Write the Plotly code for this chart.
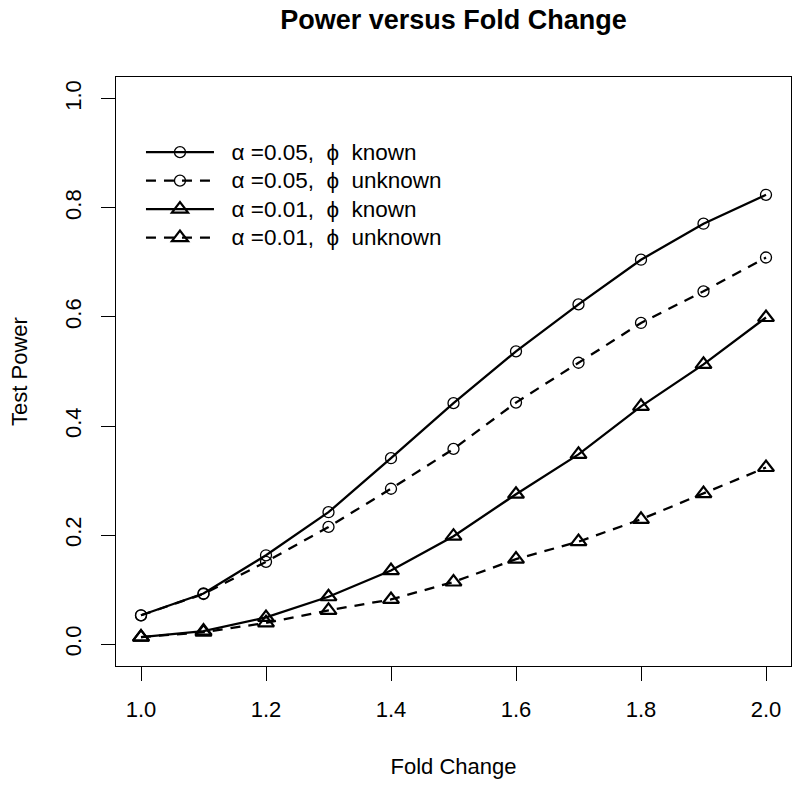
import plotly.graph_objects as go

fold_change = [1.0, 1.1, 1.2, 1.3, 1.4, 1.5, 1.6, 1.7, 1.8, 1.9, 2.0]
power_a05_known = [0.053, 0.093, 0.163, 0.242, 0.341, 0.442, 0.537, 0.623, 0.705, 0.771, 0.824]
power_a05_unknown = [0.053, 0.092, 0.151, 0.215, 0.285, 0.358, 0.443, 0.516, 0.589, 0.647, 0.709]
power_a01_known = [0.013, 0.024, 0.049, 0.087, 0.135, 0.198, 0.275, 0.348, 0.436, 0.513, 0.599]
power_a01_unknown = [0.013, 0.022, 0.039, 0.062, 0.082, 0.114, 0.156, 0.188, 0.229, 0.276, 0.324]

x_ticks = [1.0, 1.2, 1.4, 1.6, 1.8, 2.0]
x_tick_labels = ["1.0", "1.2", "1.4", "1.6", "1.8", "2.0"]
y_ticks = [0.0, 0.2, 0.4, 0.6, 0.8, 1.0]
y_tick_labels = ["0.0", "0.2", "0.4", "0.6", "0.8", "1.0"]

NB = "\u00a0"
labels = [
    f"{NB}{NB}α{NB}=0.05,{NB}{NB}ϕ{NB}{NB}known",
    f"{NB}{NB}α{NB}=0.05,{NB}{NB}ϕ{NB}{NB}unknown",
    f"{NB}{NB}α{NB}=0.01,{NB}{NB}ϕ{NB}{NB}known",
    f"{NB}{NB}α{NB}=0.01,{NB}{NB}ϕ{NB}{NB}unknown",
]

FONT = "Liberation Sans, Arial, Helvetica, sans-serif"
fig = go.Figure()

series = [
    (power_a05_known, "solid", "circle-open", 11, 1.3),
    (power_a05_unknown, "10px,8px", "circle-open", 11, 1.3),
    (power_a01_known, "solid", "triangle-up-open", 14, 2.2),
    (power_a01_unknown, "10px,8px", "triangle-up-open", 14, 2.2),
]
for (vals, dash, sym, size, mlw), label in zip(series, labels):
    fig.add_trace(go.Scatter(
        x=fold_change, y=vals, mode="lines+markers",
        name=f'<span style="font-size:22.5px">{label}</span>',
        line=dict(color="black", width=2.3, dash=dash),
        marker=dict(symbol=sym, size=size, color="black", line=dict(color="black", width=mlw)),
    ))

fig.update_layout(
    width=800, height=788,
    margin=dict(l=116, r=9, t=77, b=122),
    paper_bgcolor="white", plot_bgcolor="white",
    font=dict(family=FONT, size=22, color="black"),
    title=dict(text="<b>Power versus Fold Change</b>", x=453.5 / 800,
               xanchor="center", y=1 - 20 / 788, yanchor="middle",
               font=dict(family=FONT, size=27, color="black")),
    showlegend=True,
    legend=dict(x=0.037, y=0.905, xanchor="left", yanchor="top",
                bgcolor="rgba(0,0,0,0)", borderwidth=0, itemwidth=68,
                font=dict(family=FONT, size=19.6, color="black"), tracegroupgap=0),
)
fig.update_xaxes(
    range=[0.96, 2.04], tickvals=x_ticks, ticktext=x_tick_labels,
    showgrid=False, zeroline=False, showline=True, mirror=True,
    linecolor="black", linewidth=1.3, ticks="outside", ticklen=14, tickwidth=1.3,
    tickcolor="black", ticklabelstandoff=9,
    title=dict(text="Fold Change", standoff=38, font=dict(size=22)),
)
fig.update_yaxes(
    range=[-0.04, 1.04], tickvals=y_ticks, ticktext=y_tick_labels, tickangle=-90,
    showgrid=False, zeroline=False, showline=True, mirror=True,
    linecolor="black", linewidth=1.3, ticks="outside", ticklen=14, tickwidth=1.3,
    tickcolor="black", ticklabelstandoff=11,
    title=dict(text="Test Power", standoff=27, font=dict(size=22)),
)

fig.write_html("out.html", config={"displayModeBar": False},
               post_script="document.body.style.margin='0';")
